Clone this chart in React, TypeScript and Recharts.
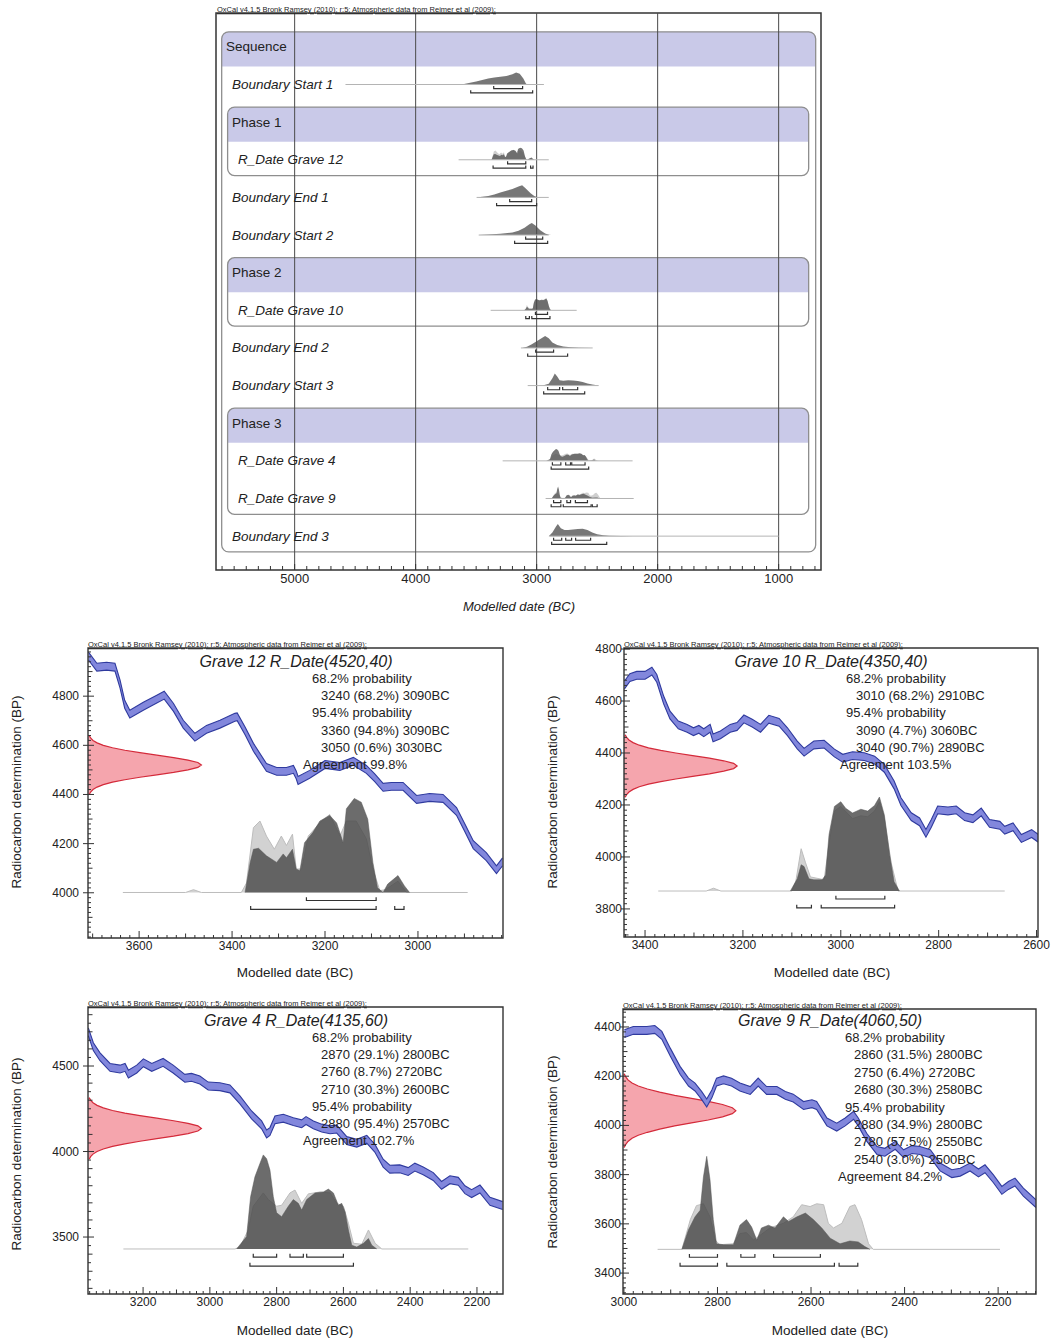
import React from 'react';
import { Area, ComposedChart, Line, ReferenceArea, ReferenceLine, XAxis, YAxis } from 'recharts';

const FONT = '"Liberation Sans", Arial, Helvetica, sans-serif';
const OXCAL = 'OxCal v4.1.5 Bronk Ramsey (2010); r:5; Atmospheric data from Reimer et al (2009);';

// ---------- multiplot (sequence model) ----------
const ROW_LABELS = [
  'Sequence', 'Boundary Start 1', 'Phase 1', 'R_Date Grave 12', 'Boundary End 1', 'Boundary Start 2',
  'Phase 2', 'R_Date Grave 10', 'Boundary End 2', 'Boundary Start 3', 'Phase 3', 'R_Date Grave 4',
  'R_Date Grave 9', 'Boundary End 3',
];
const ROW_DEPTH = [0, 1, 1, 2, 1, 1, 1, 2, 1, 1, 1, 2, 2, 1];
const ROW_HEADER = [true, false, true, false, false, false, true, false, false, false, true, false, false, false];
// boxes: header row, last row, left/right edge (years BC)
const GROUPS = [
  { first: 0, last: 13, from: 5603, to: 694 },
  { first: 2, last: 3, from: 5554, to: 752 },
  { first: 6, last: 7, from: 5554, to: 752 },
  { first: 10, last: 12, from: 5554, to: 752 },
];
const TOP_LABELS = [5000, 4000, 3000, 2000, 1000];

// [year BC, relative probability]
const START_1 = [[3700, 0], [3600, 0.05], [3560, 0.12], [3500, 0.25], [3450, 0.38], [3400, 0.5], [3350, 0.58], [3300, 0.64], [3250, 0.7], [3200, 0.85], [3170, 1], [3140, 0.9], [3110, 0.5], [3090, 0.1], [3080, 0]];
const END_1 = [[3500, 0], [3450, 0.05], [3400, 0.12], [3350, 0.25], [3300, 0.4], [3250, 0.55], [3200, 0.7], [3150, 0.9], [3120, 1], [3090, 0.75], [3050, 0.35], [3020, 0.12], [2990, 0.02], [2950, 0]];
const START_2 = [[3480, 0], [3400, 0.04], [3300, 0.1], [3200, 0.22], [3150, 0.35], [3100, 0.6], [3060, 0.9], [3040, 1], [3010, 0.8], [2970, 0.4], [2930, 0.12], [2900, 0.02], [2880, 0]];
const END_2 = [[3120, 0], [3080, 0.1], [3040, 0.3], [3000, 0.55], [2960, 0.8], [2930, 1], [2900, 0.8], [2870, 0.45], [2830, 0.25], [2780, 0.12], [2720, 0.05], [2650, 0.02], [2550, 0]];
const START_3 = [[2950, 0], [2900, 0.15], [2870, 0.6], [2850, 1], [2830, 0.75], [2810, 0.45], [2780, 0.4], [2740, 0.45], [2700, 0.42], [2660, 0.38], [2620, 0.3], [2580, 0.18], [2540, 0.08], [2500, 0.02], [2480, 0]];
const END_3 = [[2900, 0], [2870, 0.3], [2840, 0.8], [2825, 1], [2800, 0.65], [2770, 0.5], [2740, 0.5], [2700, 0.55], [2660, 0.6], [2620, 0.62], [2580, 0.5], [2540, 0.3], [2500, 0.15], [2450, 0.07], [2400, 0.03], [2300, 0.01], [2200, 0]];

const G12_LIGHT = [[3635, 0], [3500, 0], [3483, 0.03], [3466, 0], [3380, 0], [3369, 0.1], [3354, 0.69], [3340, 0.76], [3326, 0.6], [3309, 0.46], [3294, 0.6], [3283, 0.5], [3270, 0.62], [3262, 0.25], [3250, 0.25], [3236, 0.6], [3211, 0.74], [3190, 0.83], [3168, 0.6], [3154, 0.76], [3133, 0.76], [3111, 0.57], [3097, 0.25], [3082, 0.02], [3070, 0.03], [3043, 0.12], [3025, 0], [2893, 0]];
const G12_DARK = [[3372, 0], [3361, 0.32], [3354, 0.46], [3343, 0.47], [3326, 0.39], [3304, 0.32], [3290, 0.41], [3283, 0.37], [3270, 0.46], [3262, 0.25], [3254, 0.23], [3244, 0.53], [3226, 0.64], [3211, 0.76], [3190, 0.82], [3175, 0.74], [3161, 0.53], [3154, 0.89], [3137, 1.0], [3122, 0.96], [3108, 0.78], [3097, 0.32], [3087, 0.05], [3075, 0], [3065, 0.09], [3043, 0.18], [3029, 0.07], [3018, 0]];
const G10_LIGHT = [[3373, 0], [3275, 0], [3260, 0.03], [3245, 0], [3100, 0], [3092, 0.1], [3081, 0.45], [3072, 0.3], [3062, 0.15], [3034, 0.12], [3024, 0.5], [3013, 0.85], [3000, 0.9], [2976, 0.77], [2959, 0.8], [2945, 0.79], [2931, 0.85], [2921, 0.95], [2911, 0.78], [2897, 0.3], [2883, 0], [2665, 0]];
const G10_DARK = [[3103, 0], [3089, 0.13], [3081, 0.28], [3075, 0.26], [3065, 0.13], [3055, 0.12], [3038, 0.12], [3031, 0.17], [3024, 0.6], [3013, 0.9], [3000, 0.95], [2990, 0.88], [2976, 0.83], [2959, 0.87], [2945, 0.85], [2931, 0.91], [2921, 1.0], [2911, 0.81], [2900, 0.38], [2891, 0.1], [2880, 0]];
const G4_LIGHT = [[3259, 0], [2925, 0], [2910, 0.02], [2885, 0.2], [2870, 0.45], [2840, 0.59], [2825, 0.52], [2800, 0.45], [2785, 0.46], [2760, 0.59], [2745, 0.62], [2725, 0.48], [2705, 0.58], [2670, 0.6], [2640, 0.59], [2620, 0.48], [2600, 0.45], [2585, 0.27], [2570, 0.06], [2545, 0.05], [2525, 0.2], [2505, 0.06], [2485, 0], [2226, 0]];
const G4_DARK = [[2920, 0], [2890, 0.13], [2878, 0.55], [2865, 0.76], [2850, 0.9], [2840, 0.99], [2830, 0.95], [2820, 0.83], [2810, 0.55], [2800, 0.38], [2785, 0.34], [2765, 0.45], [2750, 0.52], [2735, 0.48], [2725, 0.41], [2710, 0.52], [2685, 0.59], [2660, 0.6], [2645, 0.63], [2630, 0.59], [2615, 0.46], [2605, 0.48], [2595, 0.39], [2585, 0.2], [2575, 0.04], [2560, 0.02], [2540, 0.06], [2525, 0.11], [2515, 0.04], [2500, 0]];
const G9_LIGHT = [[2928, 0], [2876, 0], [2858, 0.32], [2845, 0.47], [2830, 0.49], [2816, 0.35], [2805, 0.1], [2795, 0.05], [2766, 0.06], [2752, 0.17], [2738, 0.18], [2723, 0.1], [2709, 0.15], [2688, 0.23], [2659, 0.28], [2638, 0.35], [2620, 0.48], [2602, 0.46], [2588, 0.49], [2573, 0.48], [2563, 0.28], [2552, 0.23], [2534, 0.28], [2517, 0.46], [2506, 0.48], [2492, 0.32], [2477, 0.06], [2467, 0], [2196, 0]];
const G9_DARK = [[2876, 0], [2862, 0.21], [2848, 0.35], [2837, 0.42], [2830, 0.78], [2823, 1.0], [2816, 0.75], [2809, 0.32], [2802, 0.06], [2787, 0.05], [2766, 0.05], [2752, 0.26], [2738, 0.32], [2727, 0.24], [2716, 0.1], [2706, 0.23], [2691, 0.26], [2677, 0.23], [2659, 0.35], [2648, 0.3], [2630, 0.35], [2612, 0.39], [2595, 0.32], [2577, 0.23], [2559, 0.12], [2538, 0.06], [2517, 0.09], [2499, 0.08], [2485, 0.03], [2474, 0]];

// 68.2% and 95.4% ranges (BC)
const G12_R68 = [[3240, 3090]];
const G12_R95 = [[3360, 3090], [3050, 3030]];
const G10_R68 = [[3010, 2910]];
const G10_R95 = [[3090, 3060], [3040, 2890]];
const G4_R68 = [[2870, 2800], [2760, 2720], [2710, 2600]];
const G4_R95 = [[2880, 2570]];
const G9_R68 = [[2860, 2800], [2750, 2720], [2680, 2580]];
const G9_R95 = [[2880, 2800], [2780, 2550], [2540, 2500]];

const ROW_SERIES: any[] = [
  null,
  { dark: START_1, tail: [4580, 2940], r68: [[3355, 3116]], r95: [[3545, 3033]] },
  null,
  { light: G12_LIGHT, dark: G12_DARK, tail: [3645, 2900], r68: G12_R68, r95: G12_R95 },
  { dark: END_1, tail: [3496, 2900], r68: [[3223, 3041]], r95: [[3331, 3000]] },
  { dark: START_2, tail: [3479, 2900], r68: [[3091, 2950]], r95: [[3182, 2909]] },
  null,
  { light: G10_LIGHT, dark: G10_DARK, tail: [3380, 2669], r68: G10_R68, r95: G10_R95 },
  { dark: END_2, tail: [3130, 2537], r68: [[3008, 2860]], r95: [[3074, 2744]] },
  { dark: START_3, tail: [3074, 2488], r68: [[2909, 2810], [2785, 2661]], r95: [[2942, 2603]] },
  null,
  { light: G4_LIGHT, dark: G4_DARK, tail: [3281, 2207], r68: G4_R68, r95: G4_R95 },
  { light: G9_LIGHT, dark: G9_DARK, tail: [2926, 2198], r68: G9_R68, r95: G9_R95 },
  { dark: END_3, tail: [2893, 1000], r68: [[2860, 2793], [2760, 2711], [2678, 2554]], r95: [[2876, 2421]] },
];

// ---------- calibration curves: [year BC, BP] ----------
const G12_CAL = [[3709, 4963], [3691, 4918], [3670, 4922], [3652, 4918], [3641, 4849], [3631, 4767], [3620, 4727], [3591, 4759], [3562, 4788], [3546, 4804], [3526, 4754], [3505, 4686], [3480, 4633], [3455, 4665], [3426, 4686], [3394, 4714], [3389, 4716], [3372, 4659], [3354, 4592], [3326, 4510], [3304, 4494], [3283, 4494], [3268, 4502], [3262, 4480], [3258, 4457], [3233, 4482], [3200, 4522], [3168, 4514], [3139, 4535], [3111, 4502], [3093, 4468], [3075, 4429], [3057, 4433], [3032, 4433], [3003, 4380], [2975, 4388], [2946, 4384], [2917, 4331], [2899, 4264], [2881, 4196], [2853, 4147], [2831, 4094], [2818, 4126]];
const G10_CAL = [[3442, 4662], [3431, 4690], [3417, 4699], [3400, 4699], [3386, 4715], [3376, 4687], [3362, 4604], [3349, 4546], [3332, 4508], [3314, 4495], [3301, 4482], [3290, 4491], [3280, 4478], [3267, 4495], [3261, 4458], [3246, 4470], [3226, 4495], [3212, 4502], [3198, 4531], [3181, 4515], [3164, 4495], [3147, 4530], [3126, 4518], [3109, 4482], [3089, 4431], [3075, 4403], [3055, 4431], [3034, 4434], [3013, 4400], [2996, 4380], [2976, 4390], [2952, 4386], [2931, 4373], [2911, 4341], [2891, 4277], [2877, 4213], [2856, 4155], [2839, 4135], [2826, 4091], [2815, 4129], [2802, 4181], [2781, 4177], [2764, 4181], [2747, 4155], [2730, 4147], [2713, 4173], [2696, 4129], [2675, 4122], [2665, 4103], [2648, 4116], [2631, 4071], [2610, 4090], [2596, 4071]];
const G4_CAL = [[3364, 4700], [3349, 4613], [3329, 4554], [3299, 4492], [3269, 4482], [3254, 4492], [3244, 4453], [3219, 4482], [3199, 4519], [3174, 4492], [3140, 4521], [3110, 4482], [3075, 4428], [3055, 4434], [3030, 4418], [3005, 4383], [2970, 4379], [2940, 4366], [2910, 4302], [2875, 4214], [2845, 4156], [2830, 4103], [2820, 4117], [2805, 4185], [2780, 4195], [2750, 4175], [2725, 4162], [2712, 4181], [2690, 4156], [2665, 4137], [2640, 4127], [2620, 4131], [2590, 4064], [2560, 4049], [2530, 4072], [2506, 4020], [2481, 3932], [2461, 3897], [2431, 3899], [2406, 3883], [2386, 3909], [2361, 3887], [2331, 3854], [2306, 3802], [2281, 3835], [2256, 3826], [2236, 3777], [2216, 3754], [2191, 3781], [2161, 3709], [2123, 3684]];
const G9_CAL = [[2999, 4373], [2980, 4386], [2951, 4386], [2934, 4390], [2919, 4366], [2901, 4298], [2880, 4224], [2862, 4176], [2848, 4156], [2834, 4122], [2823, 4091], [2812, 4128], [2802, 4176], [2787, 4185], [2770, 4176], [2752, 4156], [2730, 4142], [2713, 4176], [2695, 4142], [2673, 4142], [2655, 4122], [2638, 4111], [2616, 4081], [2598, 4088], [2588, 4081], [2566, 4014], [2545, 3993], [2527, 4014], [2509, 4041], [2499, 4014], [2481, 3952], [2459, 3898], [2442, 3891], [2420, 3919], [2402, 3885], [2384, 3902], [2367, 3898], [2345, 3885], [2324, 3831], [2299, 3804], [2281, 3810], [2260, 3831], [2242, 3807], [2228, 3824], [2210, 3783], [2192, 3736], [2178, 3756], [2164, 3770], [2146, 3729], [2119, 3682]];

// radiocarbon measurement profile (shared bell shape) and its BP positions
const RED_PROFILE = [0.011, 0.023, 0.044, 0.08, 0.135, 0.216, 0.325, 0.458, 0.607, 0.755, 0.882, 0.969, 1, 0.969, 0.882, 0.755, 0.607, 0.458, 0.325, 0.216, 0.135, 0.08, 0.044, 0.023, 0.011];
const G12_RED_BP = [4400, 4410, 4420, 4430, 4440, 4450, 4460, 4470, 4480, 4490, 4500, 4510, 4520, 4530, 4540, 4550, 4560, 4570, 4580, 4590, 4600, 4610, 4620, 4630, 4640];
const G10_RED_BP = [4230, 4240, 4250, 4260, 4270, 4280, 4290, 4300, 4310, 4320, 4330, 4340, 4350, 4360, 4370, 4380, 4390, 4400, 4410, 4420, 4430, 4440, 4450, 4460, 4470];
const G4_RED_BP = [3955, 3970, 3985, 4000, 4015, 4030, 4045, 4060, 4075, 4090, 4105, 4120, 4135, 4150, 4165, 4180, 4195, 4210, 4225, 4240, 4255, 4270, 4285, 4300, 4315];
const G9_RED_BP = [3910, 3922, 3935, 3948, 3960, 3972, 3985, 3998, 4010, 4022, 4035, 4048, 4060, 4072, 4085, 4098, 4110, 4122, 4135, 4148, 4160, 4172, 4185, 4198, 4210];

const G12_TEXT = ['68.2% probability', '3240 (68.2%) 3090BC', '95.4% probability', '3360 (94.8%) 3090BC', '3050 (0.6%) 3030BC', 'Agreement 99.8%'];
const G10_TEXT = ['68.2% probability', '3010 (68.2%) 2910BC', '95.4% probability', '3090 (4.7%) 3060BC', '3040 (90.7%) 2890BC', 'Agreement 103.5%'];
const G4_TEXT = ['68.2% probability', '2870 (29.1%) 2800BC', '2760 (8.7%) 2720BC', '2710 (30.3%) 2600BC', '95.4% probability', '2880 (95.4%) 2570BC', 'Agreement 102.7%'];
const G9_TEXT = ['68.2% probability', '2860 (31.5%) 2800BC', '2750 (6.4%) 2720BC', '2680 (30.3%) 2580BC', '95.4% probability', '2880 (34.9%) 2800BC', '2780 (57.5%) 2550BC', '2540 (3.0%) 2500BC', 'Agreement 84.2%'];

const PANELS = [
  {
    title: 'Grave 12 R_Date(4520,40)', text: G12_TEXT, cal: G12_CAL, err: 16, light: G12_LIGHT, dark: G12_DARK,
    redBp: G12_RED_BP, r68: G12_R68, r95: G12_R95,
    xLabels: [3600, 3400, 3200, 3000], xTicks: [2820, 3700, 20], yLabels: [4000, 4200, 4400, 4600, 4800], yTicks: [3820, 4980, 20], mid: 100,
    box: [0, 635], plot: [88, 648, 503, 938], x: [2817, 3710], y: [3816, 4996], p: [-0.484, 2.6],
    txt: { head: 312, range: 321, agree: 303, y0: 678, lh: 17.2 }, titleAt: [296, 662], yLab: [17, 792], xLab: [295, 973], gap: 9, out: 5,
  },
  {
    title: 'Grave 10 R_Date(4350,40)', text: G10_TEXT, cal: G10_CAL, err: 15, light: G10_LIGHT, dark: G10_DARK,
    redBp: G10_RED_BP, r68: G10_R68, r95: G10_R95,
    xLabels: [3400, 3200, 3000, 2800, 2600], xTicks: [2600, 3440, 20], yLabels: [3800, 4000, 4200, 4400, 4600, 4800], yTicks: [3700, 4800, 20], mid: 100,
    box: [529, 635], plot: [624, 648, 1038, 937], x: [2597, 3443], y: [3692, 4804], p: [-0.489, 2.585],
    txt: { head: 846, range: 856, agree: 840, y0: 678, lh: 17.2 }, titleAt: [831, 662], yLab: [553, 792], xLab: [832, 973], gap: 4, out: 3,
  },
  {
    title: 'Grave 4 R_Date(4135,60)', text: G4_TEXT, cal: G4_CAL, err: 23, light: G4_LIGHT, dark: G4_DARK,
    redBp: G4_RED_BP, r68: G4_R68, r95: G4_R95,
    xLabels: [3200, 3000, 2800, 2600, 2400, 2200], xTicks: [2140, 3360, 20], yLabels: [3500, 4000, 4500], yTicks: [3200, 4800, 50], mid: 100,
    box: [0, 990], plot: [88, 1007, 503, 1294], x: [2122, 3365], y: [3167, 4845], p: [-0.474, 2.547],
    txt: { head: 312, range: 321, agree: 303, y0: 1037, lh: 17.2 }, titleAt: [296, 1021], yLab: [17, 1154], xLab: [295, 1331], gap: 9, out: 5,
  },
  {
    title: 'Grave 9 R_Date(4060,50)', text: G9_TEXT, cal: G9_CAL, err: 16, light: G9_LIGHT, dark: G9_DARK,
    redBp: G9_RED_BP, r68: G9_R68, r95: G9_R95,
    xLabels: [3000, 2800, 2600, 2400, 2200], xTicks: [2120, 3000, 20], yLabels: [3400, 3600, 3800, 4000, 4200, 4400], yTicks: [3320, 4460, 20], mid: 100,
    box: [529, 990], plot: [623, 1009, 1036, 1294], x: [2119, 3002], y: [3315, 4473], p: [-0.48, 2.584],
    txt: { head: 845, range: 854, agree: 838, y0: 1037, lh: 17.4 }, titleAt: [830, 1021], yLab: [553, 1152], xLab: [830, 1331], gap: 4, out: 3,
  },
];

const BOX_W = 525;
const BOX_H = 350;

function steps(a: number, b: number, s: number) {
  const out: number[] = [];
  for (let v = a; v <= b + 1e-6; v += s) out.push(v);
  return out;
}

function brackets(ranges: number[][], yLine: number, tick: number, yAxisId: any, key: string) {
  return ranges.map(([a, b], k) => (
    <Line
      key={`${key}-${k}`}
      yAxisId={yAxisId}
      data={[{ x: a, y: yLine + tick }, { x: a, y: yLine }, { x: b, y: yLine }, { x: b, y: yLine + tick }]}
      dataKey="y"
      type="linear"
      stroke="#333"
      strokeWidth={1.2}
      dot={false}
      activeDot={false}
      isAnimationActive={false}
    />
  ));
}

function Txt({ x, y, children, size = 13, italic = false, center = false, rotate = false, underline = false }: any) {
  const transform = rotate ? 'translate(-50%, -50%) rotate(-90deg)' : center ? 'translate(-50%, -50%)' : 'translateY(-50%)';
  return (
    <div
      style={{
        position: 'absolute', left: x, top: y, transform, whiteSpace: 'nowrap', fontSize: size, lineHeight: 1,
        fontStyle: italic ? 'italic' : 'normal', color: '#222', fontFamily: FONT,
        textDecoration: underline ? 'underline' : 'none',
      }}
    >
      {children}
    </div>
  );
}

const BandShape = (p: any) => {
  const { x, y, width: w, height: h } = p;
  const r = 7;
  return (
    <path
      d={`M${x},${y + h} L${x},${y + r} Q${x},${y} ${x + r},${y} L${x + w - r},${y} Q${x + w},${y} ${x + w},${y + r} L${x + w},${y + h} Z`}
      fill="#c3c3e6"
      fillOpacity={0.9}
    />
  );
};

const FrameShape = (p: any) => (
  <rect x={p.x} y={p.y} width={p.width} height={p.height} rx={7} fill="none" stroke="#8e8e8e" strokeWidth={1.3} />
);

function TopPlot() {
  const rows = ROW_LABELS.map((_, i) => i);
  const els: any[] = [];
  ROW_SERIES.forEach((s, i) => {
    if (!s) return;
    els.push(
      <Line key={`tail-${i}`} data={[{ x: s.tail[0], y: i }, { x: s.tail[1], y: i }]} dataKey="y" stroke="#b4b4b4"
        strokeWidth={1} dot={false} activeDot={false} isAnimationActive={false} />,
    );
    if (s.light) {
      els.push(
        <Area key={`l-${i}`} data={s.light.map(([x, p]: number[]) => ({ x, r: [i, i - 0.32 * p] }))} dataKey="r"
          type="linear" fill="#cfcfcf" fillOpacity={1} stroke="none" isAnimationActive={false} />,
      );
    }
    els.push(
      <Area key={`d-${i}`} data={s.dark.map(([x, p]: number[]) => ({ x, r: [i, i - 0.32 * p] }))} dataKey="r"
        type="linear" fill="#555" fillOpacity={0.8} stroke="none" isAnimationActive={false} />,
    );
    els.push(...brackets(s.r68, i + 0.11, -0.07, 0, `t68-${i}`));
    els.push(...brackets(s.r95, i + 0.22, -0.07, 0, `t95-${i}`));
  });

  return (
    <div style={{ position: 'absolute', left: 0, top: 0 }}>
      <ComposedChart width={1054} height={620} margin={{ top: 13, left: 196, right: 233, bottom: 20 }}>
        <XAxis type="number" dataKey="x" domain={[650, 5650]} reversed allowDataOverflow ticks={steps(700, 5600, 100)}
          interval={0} tickSize={0} tickMargin={0} height={30} axisLine={false} tickLine={false}
          tick={(p: any) => {
            const v = p.payload.value;
            const major = TOP_LABELS.includes(v);
            return (
              <g>
                <line x1={p.x} x2={p.x} y1={p.y} y2={p.y - (major ? 6 : 4)} stroke="#333" />
                {major && <text x={p.x} y={p.y + 13} textAnchor="middle" fontSize={13} fill="#222" fontFamily={FONT}>{v}</text>}
              </g>
            );
          }}
        />
        <YAxis type="number" domain={[-0.9, 13.9]} reversed allowDataOverflow ticks={rows} interval={0} width={20}
          tickSize={0} tickMargin={0} axisLine={false} tickLine={false}
          tick={(p: any) => {
            const i = p.payload.value;
            return (
              <text x={p.x + 10 + ROW_DEPTH[i] * 6} y={p.y} dominantBaseline="central" textAnchor="start" fontSize={13.5} fill="#222"
                fontStyle={ROW_HEADER[i] ? 'normal' : 'italic'} fontFamily={FONT}>
                {ROW_LABELS[i]}
              </text>
            );
          }}
        />
        {GROUPS.map((g, k) => (
          <ReferenceArea key={`band-${k}`} x1={g.from} x2={g.to} y1={g.first - 0.4} y2={g.first + 0.52}
            ifOverflow="visible" shape={BandShape} />
        ))}
        {GROUPS.map((g, k) => (
          <ReferenceArea key={`frame-${k}`} x1={g.from} x2={g.to} y1={g.first - 0.4} y2={g.last + 0.42}
            ifOverflow="visible" shape={FrameShape} />
        ))}
        {TOP_LABELS.map((v) => (
          <ReferenceLine key={`g-${v}`} x={v} stroke="#4a4a4a" strokeWidth={1} />
        ))}
        {els}
        <ReferenceArea x1={5650} x2={650} y1={-0.9} y2={13.9} ifOverflow="visible" fill="none" stroke="#333" strokeWidth={1.5} fillOpacity={0} />
      </ComposedChart>
    </div>
  );
}

function CalPanel({ d }: { d: any }) {
  const [bx, by] = d.box;
  const [pl, pt, pr, pb] = d.plot;
  const yAxisW = 40;
  const margin = { top: pt - by, left: pl - bx - yAxisW, right: bx + BOX_W - pr, bottom: by + BOX_H - pb - 30 };
  const overlayMargin = { top: pt - by, left: pl - bx, right: bx + BOX_W - pr, bottom: by + BOX_H - pb };
  const cal = d.cal.map(([x, bp]: number[]) => ({ x, r: [bp - d.err, bp + d.err] }));
  const red = d.redBp.map((bp: number, k: number) => ({ bp, p: RED_PROFILE[k] }));
  const light = d.light.map(([x, p]: number[]) => ({ x, p }));
  const dark = d.dark.map(([x, p]: number[]) => ({ x, p }));

  return (
    <>
      <div style={{ position: 'absolute', left: bx, top: by }}>
        <ComposedChart layout="vertical" width={BOX_W} height={BOX_H} margin={overlayMargin}>
          <XAxis type="number" domain={[0, 3.66]} hide allowDataOverflow />
          <YAxis type="number" dataKey="bp" domain={d.y} reversed hide allowDataOverflow />
          <Area data={red} dataKey="p" type="linear" fill="#f5a5ad" fillOpacity={1} stroke="#d42a3a" strokeWidth={1.2}
            isAnimationActive={false} />
        </ComposedChart>
      </div>
      <div style={{ position: 'absolute', left: bx, top: by }}>
        <ComposedChart width={BOX_W} height={BOX_H} margin={margin}>
          <XAxis type="number" dataKey="x" domain={d.x} reversed allowDataOverflow ticks={steps(d.xTicks[0], d.xTicks[1], d.xTicks[2])}
            interval={0} tickSize={0} tickMargin={0} height={30} axisLine={false} tickLine={false}
            tick={(p: any) => {
              const v = p.payload.value;
              const major = d.xLabels.includes(v);
              const len = major ? 7 : v % d.mid === 0 ? 4.5 : 3;
              return (
                <g>
                  <line x1={p.x} x2={p.x} y1={p.y} y2={p.y - len} stroke="#333" />
                  {major && <text x={p.x} y={p.y + 12} textAnchor="middle" fontSize={12} fill="#222" fontFamily={FONT}>{v}</text>}
                </g>
              );
            }}
          />
          <YAxis yAxisId="bp" type="number" domain={d.y} allowDataOverflow ticks={steps(d.yTicks[0], d.yTicks[1], d.yTicks[2])}
            interval={0} width={yAxisW} tickSize={0} tickMargin={0} axisLine={false} tickLine={false}
            tick={(p: any) => {
              const v = p.payload.value;
              const major = d.yLabels.includes(v);
              const len = major ? 6 : v % d.mid === 0 ? 4.5 : 3;
              return (
                <g>
                  <line x1={p.x - (major ? d.out : 0)} x2={p.x + len} y1={p.y} y2={p.y} stroke="#333" />
                  {major && (
                    <text x={p.x - d.out - d.gap + 5} y={p.y} textAnchor="end" dominantBaseline="central" fontSize={12} fill="#222" fontFamily={FONT}>
                      {v}
                    </text>
                  )}
                </g>
              );
            }}
          />
          <YAxis yAxisId="p" type="number" domain={d.p} hide allowDataOverflow />
          <Area yAxisId="bp" data={cal} dataKey="r" type="linear" fill="#8287dc" fillOpacity={1} stroke="#2f3a9e"
            strokeWidth={1.1} isAnimationActive={false} />
          <Area yAxisId="p" data={light} dataKey="p" type="linear" fill="#d2d2d2" fillOpacity={1} stroke="#bdbdbd"
            strokeWidth={1} isAnimationActive={false} />
          <Area yAxisId="p" data={dark} dataKey="p" type="linear" fill="#474747" fillOpacity={0.8} stroke="#555"
            strokeWidth={0.5} isAnimationActive={false} />
          {brackets(d.r68, -0.085, 0.035, 'p', 'c68')}
          {brackets(d.r95, -0.18, 0.035, 'p', 'c95')}
          <ReferenceArea yAxisId="bp" x1={d.x[1]} x2={d.x[0]} y1={d.y[0]} y2={d.y[1]} ifOverflow="visible"
            fill="none" fillOpacity={0} stroke="#333" strokeWidth={1.4} />
        </ComposedChart>
      </div>
      <Txt x={pl} y={pt - 3} size={7.5} underline>{OXCAL}</Txt>
      <Txt x={d.titleAt[0]} y={d.titleAt[1]} size={16} italic center>{d.title}</Txt>
      {d.text.map((t: string, k: number) => {
        const x = t.startsWith('Agreement') ? d.txt.agree : t.includes('probability') ? d.txt.head : d.txt.range;
        return <Txt key={k} x={x} y={d.txt.y0 + k * d.txt.lh}>{t}</Txt>;
      })}
      <Txt x={d.yLab[0]} y={d.yLab[1]} size={13.5} rotate>Radiocarbon determination (BP)</Txt>
      <Txt x={d.xLab[0]} y={d.xLab[1]} size={13.5} center>Modelled date (BC)</Txt>
    </>
  );
}

export default function App() {
  return (
    <div style={{ position: 'relative', width: 1054, height: 1339, background: '#fff', overflow: 'hidden', fontFamily: FONT }}>
      <style>{'body{margin:0;background:#fff}'}</style>
      <TopPlot />
      <Txt x={217} y={10} size={7.5} underline>{OXCAL}</Txt>
      <Txt x={519} y={606} size={13} italic center>Modelled date (BC)</Txt>
      {PANELS.map((d, k) => (
        <CalPanel key={k} d={d} />
      ))}
    </div>
  );
}
